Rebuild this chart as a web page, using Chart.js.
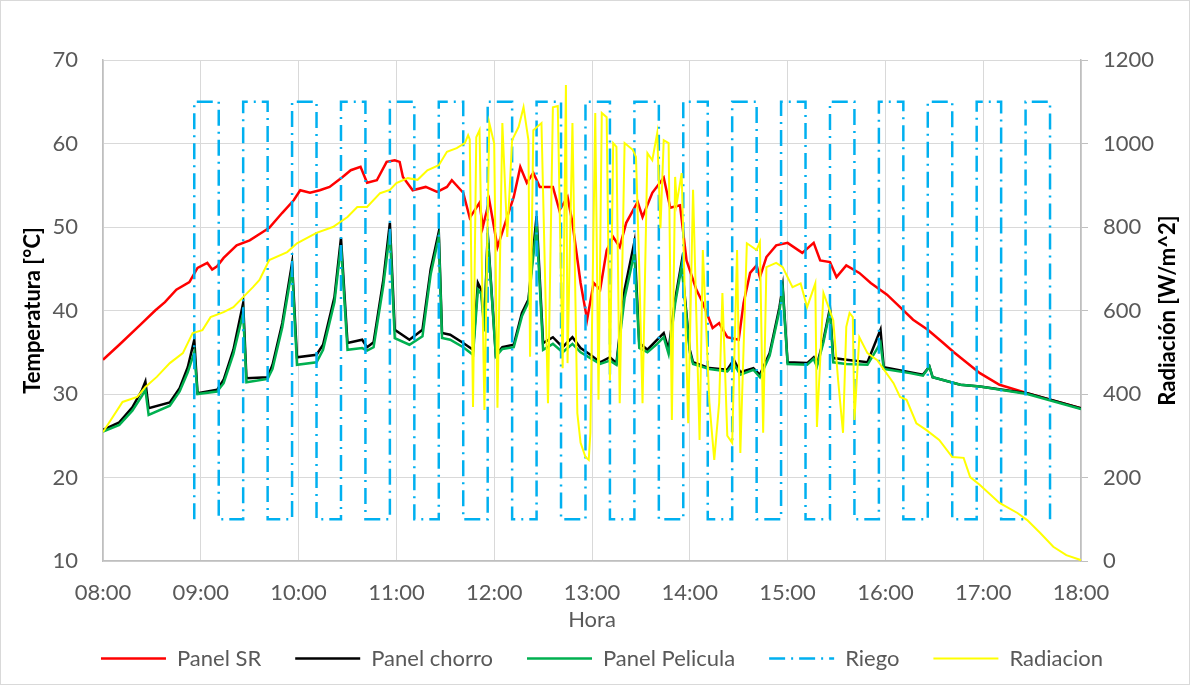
<!DOCTYPE html>
<html>
<head>
<meta charset="utf-8">
<title>Temperatura de paneles y radiación</title>
<script src="https://cdn.jsdelivr.net/npm/chart.js@4/dist/chart.umd.min.js"></script>
<style>
    html, body { margin: 0; padding: 0; background: #fff; }
    #contenedor { width: 1190px; height: 685px; }
</style>
</head>
<body>
<div id="contenedor"><canvas id="gfc_paneles" width="1190" height="685"></canvas></div>
<script>
//PANEL SIN REFRIGERACION
var horaSR = ['08:00', '08:10', '08:23', '08:32', '08:38', '08:45', '08:53', '08:58', '09:04', '09:07',
    '09:10', '09:14', '09:22', '09:30', '09:38', '09:42', '09:50', '09:57', '10:01', '10:07',
    '10:13', '10:19', '10:27', '10:32', '10:38', '10:42', '10:48', '10:54', '10:59', '11:02',
    '11:04', '11:10', '11:18', '11:25', '11:31', '11:34', '11:41', '11:45', '11:51', '11:53',
    '11:57', '12:02', '12:08', '12:12', '12:16', '12:20', '12:24', '12:28', '12:36', '12:40',
    '12:45', '12:48', '12:53', '12:57', '13:01', '13:05', '13:09', '13:13', '13:17', '13:21',
    '13:28', '13:31', '13:37', '13:44', '13:48', '13:54', '13:58', '14:04', '14:08', '14:14',
    '14:18', '14:23', '14:30', '14:33', '14:37', '14:41', '14:43', '14:47', '14:53', '15:00',
    '15:09', '15:16', '15:20', '15:26', '15:30', '15:36', '15:44', '15:51', '16:01', '16:09',
    '16:17', '16:26', '16:35', '16:42', '16:58', '17:10', '17:27', '18:00'];
var panelSR = [34.1, 35.9, 38.3, 40.0, 41.0, 42.5, 43.4, 45.1, 45.7, 44.9,
    45.3, 46.3, 47.8, 48.4, 49.4, 49.9, 51.7, 53.2, 54.4, 54.1,
    54.4, 54.8, 56.0, 56.8, 57.2, 55.3, 55.6, 57.8, 58.0, 57.8,
    56.0, 54.4, 54.8, 54.2, 54.8, 55.6, 54.1, 51.1, 52.9, 50.0,
    53.2, 47.6, 51.2, 53.6, 57.2, 55.3, 56.5, 54.8, 54.8, 52.0,
    53.6, 50.5, 43.3, 38.9, 43.3, 42.5, 47.2, 48.8, 47.6, 50.5,
    53.0, 51.2, 54.1, 55.9, 52.3, 52.6, 46.0, 42.5, 40.9, 37.9,
    38.5, 36.8, 36.5, 40.9, 44.5, 45.4, 44.0, 46.4, 47.8, 48.1,
    46.9, 48.1, 46.0, 45.8, 44.0, 45.4, 44.5, 43.3, 41.9, 40.4,
    38.9, 37.7, 36.2, 35.0, 32.5, 31.1, 30.1, 28.3];

//PANELES CON CHORRO Y CON PELICULA (MISMAS HORAS)
var horaPaneles = ['08:00', '08:10', '08:18', '08:24', '08:26', '08:28', '08:41', '08:47', '08:52', '08:56',
    '08:58', '09:10', '09:14', '09:20', '09:26', '09:28', '09:41', '09:44', '09:50', '09:56',
    '09:59', '10:11', '10:15', '10:22', '10:26', '10:30', '10:39', '10:42', '10:46', '10:52',
    '10:56', '10:59', '11:08', '11:16', '11:21', '11:26', '11:28', '11:33', '11:41', '11:47',
    '11:50', '11:52', '11:54', '11:56', '12:01', '12:05', '12:12', '12:17', '12:21', '12:26',
    '12:30', '12:36', '12:42', '12:48', '12:53', '12:59', '13:05', '13:11', '13:15', '13:20',
    '13:26', '13:29', '13:34', '13:40', '13:44', '13:47', '13:51', '13:55', '14:00', '14:02',
    '14:12', '14:23', '14:27', '14:31', '14:39', '14:43', '14:49', '14:55', '14:57', '15:00',
    '15:12', '15:16', '15:18', '15:22', '15:26', '15:28', '15:36', '15:49', '15:57', '15:59',
    '16:15', '16:23', '16:27', '16:29', '16:46', '16:58', '17:27', '18:00'];
var panelChorro = [25.7, 26.6, 28.4, 30.5, 31.5, 28.3, 29.0, 30.7, 33.2, 36.5,
    30.1, 30.5, 31.7, 35.3, 40.9, 31.9, 32.0, 33.5, 38.5, 45.7,
    34.4, 34.7, 35.9, 41.6, 48.7, 36.1, 36.5, 35.6, 36.2, 43.7,
    50.5, 37.7, 36.5, 37.7, 44.9, 49.4, 37.3, 37.1, 36.1, 35.3,
    43.3, 42.5, 38.0, 49.3, 34.7, 35.6, 35.9, 39.7, 41.3, 51.3,
    36.1, 36.8, 35.6, 36.8, 35.5, 34.7, 33.8, 34.4, 33.7, 42.5,
    48.2, 36.1, 35.3, 36.5, 37.3, 35.3, 41.3, 45.8, 35.3, 33.8,
    33.1, 32.9, 34.1, 32.6, 33.1, 32.3, 34.9, 40.4, 42.9, 33.8,
    33.7, 34.4, 33.5, 36.5, 40.3, 34.3, 34.1, 33.8, 37.7, 33.2,
    32.6, 32.3, 33.3, 32.0, 31.1, 30.9, 30.1, 28.3];
var panelPelicula = [25.5, 26.3, 28.0, 29.8, 30.5, 27.5, 28.6, 30.3, 32.6, 35.0,
    30.0, 30.3, 31.3, 34.8, 39.7, 31.4, 31.8, 33.0, 38.0, 45.0,
    33.5, 33.8, 35.3, 41.0, 47.8, 35.3, 35.5, 35.2, 35.6, 43.0,
    49.4, 36.7, 35.9, 36.9, 44.3, 48.8, 36.7, 36.5, 35.6, 34.7,
    42.5, 42.0, 37.5, 49.0, 34.5, 35.4, 35.6, 39.3, 41.0, 50.2,
    35.3, 36.0, 35.0, 36.0, 35.0, 34.3, 33.6, 34.0, 33.5, 41.5,
    46.9, 35.5, 35.0, 36.0, 36.8, 34.8, 40.8, 45.3, 35.0, 33.6,
    33.0, 32.7, 33.6, 32.3, 32.9, 32.0, 34.6, 40.0, 42.5, 33.6,
    33.5, 34.2, 33.3, 36.2, 40.0, 33.8, 33.6, 33.5, 36.1, 33.0,
    32.5, 32.2, 33.3, 32.0, 31.1, 30.9, 30.0, 28.2];

//RIEGO: HORA DE CADA CAMBIO Y NIVEL DESDE ESE MOMENTO
var horaRiego = ['08:56', '08:56', '09:11', '09:26', '09:41', '09:56', '10:11', '10:26', '10:41', '10:56',
    '11:11', '11:26', '11:41', '11:56', '12:11', '12:26', '12:41', '12:56', '13:11', '13:26',
    '13:41', '13:56', '14:11', '14:26', '14:41', '14:56', '15:11', '15:26', '15:41', '15:56',
    '16:11', '16:26', '16:41', '16:56', '17:11', '17:26', '17:41'];
var riego = [15, 65, 15, 65, 15, 65, 15, 65, 15, 65,
    15, 65, 15, 65, 15, 65, 15, 65, 15, 65,
    15, 65, 15, 65, 15, 65, 15, 65, 15, 65,
    15, 65, 15, 65, 15, 65, 15];

//RADIACION SOLAR [W/m^2]
var horaRadiacion = ['08:00', '08:12', '08:21', '08:26', '08:33', '08:41', '08:49', '08:55', '09:01', '09:06',
    '09:14', '09:20', '09:26', '09:32', '09:36', '09:42', '09:53', '09:59', '10:11', '10:21',
    '10:30', '10:36', '10:42', '10:50', '10:56', '11:00', '11:07', '11:13', '11:19', '11:26',
    '11:31', '11:37', '11:42', '11:44', '11:45', '11:47', '11:49', '11:51', '11:54', '11:57',
    '12:00', '12:02', '12:05', '12:08', '12:11', '12:15', '12:18', '12:21', '12:22', '12:24',
    '12:29', '12:33', '12:36', '12:39', '12:42', '12:44', '12:45', '12:48', '12:51', '12:53',
    '12:56', '12:58', '12:59', '13:02', '13:04', '13:06', '13:09', '13:11', '13:13', '13:15',
    '13:17', '13:20', '13:25', '13:27', '13:29', '13:31', '13:34', '13:37', '13:40', '13:42',
    '13:44', '13:47', '13:49', '13:51', '13:52', '13:55', '13:59', '14:02', '14:06', '14:08',
    '14:12', '14:15', '14:18', '14:20', '14:23', '14:26', '14:29', '14:31', '14:35', '14:41',
    '14:43', '14:45', '14:47', '14:53', '14:57', '15:03', '15:08', '15:12', '15:17', '15:18',
    '15:22', '15:28', '15:31', '15:34', '15:36', '15:38', '15:40', '15:41', '15:44', '15:49',
    '15:55', '16:05', '16:09', '16:13', '16:19', '16:25', '16:33', '16:41', '16:48', '16:52',
    '16:58', '17:10', '17:21', '17:27', '17:35', '17:43', '17:51', '18:00'];
var radiacion = [309, 381, 393, 417, 441, 474, 498, 546, 553, 584,
    596, 608, 632, 656, 673, 721, 740, 761, 786, 800,
    824, 848, 848, 881, 889, 905, 917, 913, 936, 948,
    980, 989, 1001, 1020, 1010, 369, 1015, 1032, 362, 1049,
    1000, 367, 1049, 776, 1008, 1040, 1087, 1008, 489, 1032,
    1049, 378, 1087, 1090, 462, 1140, 474, 1049, 354, 283,
    249, 242, 307, 1073, 386, 1073, 1063, 433, 1001, 992,
    378, 1001, 985, 968, 700, 378, 977, 960, 1025, 797,
    1008, 1001, 338, 920, 857, 929, 330, 889, 290, 745,
    380, 242, 378, 642, 300, 283, 745, 259, 761, 745,
    764, 307, 704, 714, 704, 656, 665, 608, 665, 321,
    642, 577, 433, 307, 561, 594, 584, 338, 536, 498,
    481, 426, 393, 386, 330, 314, 290, 249, 247, 201,
    182, 139, 115, 98, 67, 34, 14, 2];

//CONVIERTE 'HH:MM' EN MINUTOS DEL DIA
function minutos(hora) {
    var p = hora.split(':');
    return parseInt(p[0]) * 60 + parseInt(p[1]);
}
function puntos(horas, valores) {
    return horas.map(function (h, i) {
        return { x: minutos(h), y: valores[i] };
    });
}
function formato_hora(v) {
    var h = Math.floor(v / 60);
    var m = v % 60;
    return (h < 10 ? '0' : '') + h + ':' + (m < 10 ? '0' : '') + m;
}

//FONDO, MARCO Y TITULO DEL EJE DERECHO
var marco = {
    id: 'marco',
    beforeDraw: function (chart) {
        var ctx = chart.ctx;
        ctx.save();
        ctx.fillStyle = '#ffffff';
        ctx.fillRect(0, 0, chart.width, chart.height);
        ctx.strokeStyle = '#d9d9d9';
        ctx.lineWidth = 1;
        ctx.strokeRect(0.5, 0.5, chart.width - 1, chart.height - 1);
        ctx.restore();
    },
    afterDraw: function (chart) {
        var ctx = chart.ctx;
        var area = chart.chartArea;
        ctx.save();
        ctx.translate(1168, (area.top + area.bottom) / 2);
        ctx.rotate(-Math.PI / 2);
        ctx.font = 'bold 22px Lato';
        ctx.fillStyle = '#000000';
        ctx.textAlign = 'center';
        ctx.textBaseline = 'middle';
        ctx.fillText('Radiación [W/m^2]', 0, 0);
        ctx.restore();
    }
};

//LA LEYENDA USA EL MISMO TRAZO (GROSOR Y GUIONES) QUE CADA SERIE
function etiquetas(chart) {
    var items = Chart.defaults.plugins.legend.labels.generateLabels(chart);
    items.forEach(function (item) {
        var ds = chart.data.datasets[item.datasetIndex];
        item.lineDash = ds.borderDash || [];
        item.lineWidth = ds.borderWidth;
        item.strokeStyle = ds.borderColor;
    });
    return items;
}

Chart.defaults.font.family = 'Lato';
Chart.defaults.font.size = 22;
Chart.defaults.color = '#595959';

var ctx = document.getElementById('gfc_paneles').getContext('2d');
var grafico = new Chart(ctx, {
    type: 'line',
    data: {
        datasets: [
            {
                label: 'Panel SR',
                data: puntos(horaSR, panelSR),
                borderColor: '#ff0000',
                backgroundColor: '#ff0000',
                borderWidth: 2.5,
                order: 4
            },
            {
                label: 'Panel chorro',
                data: puntos(horaPaneles, panelChorro),
                borderColor: '#000000',
                backgroundColor: '#000000',
                borderWidth: 2.5,
                order: 3
            },
            {
                label: 'Panel Pelicula',
                data: puntos(horaPaneles, panelPelicula),
                borderColor: '#00b050',
                backgroundColor: '#00b050',
                borderWidth: 2.5,
                order: 2
            },
            {
                label: 'Riego',
                data: puntos(horaRiego, riego),
                borderColor: '#00b0f0',
                backgroundColor: '#00b0f0',
                borderWidth: 2.5,
                borderDash: [16, 6, 2, 6],
                stepped: true,
                order: 1
            },
            {
                label: 'Radiacion',
                data: puntos(horaRadiacion, radiacion),
                borderColor: '#ffff00',
                backgroundColor: '#ffff00',
                borderWidth: 2,
                yAxisID: 'y2',
                order: 0
            }
        ]
    },
    options: {
        responsive: false,
        animation: false,
        elements: {
            point: { radius: 0 },
            line: { tension: 0, fill: false }
        },
        layout: {
            padding: { left: 14, right: 0, top: 60, bottom: 5.5 }
        },
        plugins: {
            legend: {
                position: 'bottom',
                labels: {
                    usePointStyle: true,
                    pointStyle: 'line',
                    pointStyleWidth: 65,
                    padding: 34,
                    color: '#595959',
                    font: { size: 22 },
                    generateLabels: etiquetas,
                    sort: function (a, b) { return a.datasetIndex - b.datasetIndex; }
                }
            },
            tooltip: { enabled: false }
        },
        scales: {
            x: {
                type: 'linear',
                min: 480,
                max: 1080,
                ticks: {
                    stepSize: 60,
                    padding: 19,
                    maxRotation: 0,
                    autoSkip: false,
                    callback: formato_hora
                },
                grid: { color: '#d9d9d9', drawTicks: false },
                border: { color: '#bfbfbf', width: 1.5 },
                title: {
                    display: true,
                    text: 'Hora',
                    color: '#595959',
                    font: { size: 22 },
                    padding: { top: 0, bottom: -19.5 }
                },
                afterFit: function (scale) { scale.height = 52.5; }
            },
            y: {
                position: 'left',
                min: 10,
                max: 70,
                ticks: { stepSize: 10, padding: 25 },
                grid: { color: '#d9d9d9', drawTicks: false },
                border: { color: '#bfbfbf', width: 1.5 },
                title: {
                    display: true,
                    text: 'Temperatura [°C]',
                    color: '#000000',
                    font: { size: 22, weight: 'bold' },
                    padding: { top: 6, bottom: 0 }
                },
                afterFit: function (scale) { scale.width = 89; }
            },
            y2: {
                position: 'right',
                min: 0,
                max: 1200,
                ticks: {
                    stepSize: 200,
                    padding: 15,
                    callback: function (v) { return String(v); }
                },
                grid: { drawOnChartArea: false, tickLength: 7, color: '#bfbfbf' },
                border: { color: '#bfbfbf', width: 1.5 },
                afterFit: function (scale) { scale.width = 109; }
            }
        }
    },
    plugins: [marco]
});
</script>
</body>
</html>
